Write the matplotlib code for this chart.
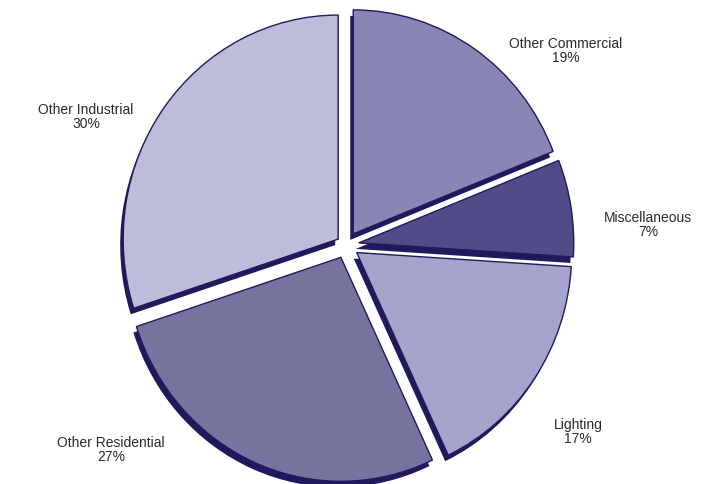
import matplotlib
matplotlib.use("Agg")
import matplotlib.pyplot as plt

# ---- data ----
categories = ["Other Commercial", "Miscellaneous", "Lighting", "Other Residential", "Other Industrial"]
shares = [19, 7, 17, 27, 30]

# ---- style / layout ----
colors = ["#8886b4", "#4f4c88", "#a4a3cc", "#76739f", "#bebcdb"]
edge_dark = "#1e1a5c"
explode = [0.06, 0.06, 0.06, 0.06, 0.045]
label_px = [(566, 51), (648, 225), (578, 432), (111, 450), (86, 117)]

W, H = 715, 485
cx, cy, rx, ry = 346, 246, 215, 224


def px2data(x, y):
    return ((x - cx) / rx, (cy - y) / ry)


fig = plt.figure(figsize=(W / 100, H / 100), dpi=100)
ax = fig.add_axes([0, 0, 1, 1])

# shadow layer (offset down-left)
sx, sy = px2data(cx - 3, cy + 6)
ax.pie(shares, explode=explode, startangle=90, counterclock=False,
       colors=[edge_dark] * len(shares), center=(sx, sy), radius=1,
       wedgeprops=dict(linewidth=0))
# main layer
ax.pie(shares, explode=explode, startangle=90, counterclock=False,
       colors=colors, center=(0, 0), radius=1,
       wedgeprops=dict(edgecolor=edge_dark, linewidth=1.0))

for name, val, (lx, ly) in zip(categories, shares, label_px):
    dx, dy = px2data(lx, ly)
    ax.text(dx, dy, f"{name}\n{val}%", ha="center", va="center",
            fontsize=10, family="Liberation Sans", color="#2a2a2a",
            linespacing=1.0)

ax.set_aspect("auto")
ax.set_xlim(-cx / rx, (W - cx) / rx)
ax.set_ylim(-(H - cy) / ry, cy / ry)
ax.axis("off")

fig.savefig("out.png", dpi=100, facecolor="white")
